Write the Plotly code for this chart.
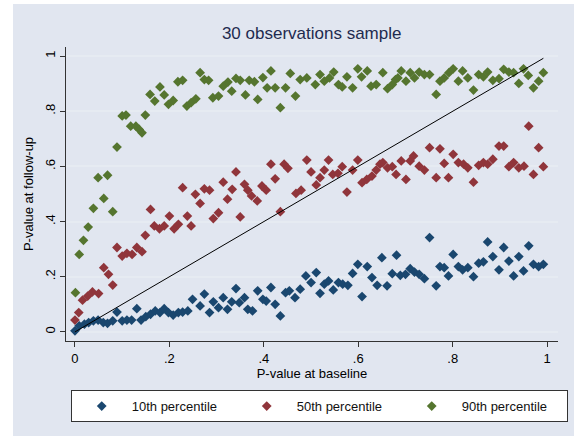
import plotly.graph_objects as go

# ---------------- data ----------------
blue_x = [0.000, 0.009, 0.020, 0.029, 0.039, 0.049, 0.060, 0.069, 0.080, 0.089,
          0.100, 0.110, 0.120, 0.131, 0.140, 0.150, 0.160, 0.170, 0.180, 0.189,
          0.198, 0.208, 0.219, 0.228, 0.239, 0.249, 0.265, 0.274, 0.285, 0.293,
          0.304, 0.314, 0.323, 0.332, 0.341, 0.348, 0.359, 0.366, 0.376, 0.387,
          0.398, 0.405, 0.415, 0.424, 0.435, 0.446, 0.454, 0.466, 0.477, 0.489,
          0.500, 0.511, 0.519, 0.528, 0.537, 0.547, 0.558, 0.567, 0.578, 0.588,
          0.599, 0.608, 0.619, 0.629, 0.640, 0.650, 0.661, 0.672, 0.681, 0.689,
          0.700, 0.710, 0.719, 0.729, 0.740, 0.751, 0.765, 0.773, 0.782, 0.791,
          0.801, 0.812, 0.821, 0.832, 0.844, 0.855, 0.865, 0.874, 0.885, 0.898,
          0.908, 0.919, 0.929, 0.940, 0.950, 0.961, 0.971, 0.982, 0.992]
blue_y = [0.004, 0.022, 0.028, 0.034, 0.040, 0.043, 0.034, 0.031, 0.040, 0.072,
          0.040, 0.043, 0.043, 0.084, 0.043, 0.055, 0.064, 0.076, 0.070, 0.084,
          0.070, 0.061, 0.070, 0.072, 0.076, 0.118, 0.094, 0.137, 0.070, 0.109,
          0.088, 0.124, 0.082, 0.109, 0.157, 0.106, 0.124, 0.082, 0.076, 0.149,
          0.118, 0.112, 0.161, 0.100, 0.058, 0.142, 0.149, 0.124, 0.155, 0.203,
          0.179, 0.215, 0.140, 0.173, 0.185, 0.152, 0.179, 0.173, 0.169, 0.212,
          0.245, 0.128, 0.237, 0.197, 0.169, 0.269, 0.167, 0.211, 0.278, 0.205,
          0.209, 0.229, 0.217, 0.209, 0.193, 0.342, 0.167, 0.237, 0.233, 0.203,
          0.281, 0.237, 0.225, 0.233, 0.200, 0.249, 0.254, 0.326, 0.273, 0.225,
          0.306, 0.257, 0.203, 0.273, 0.221, 0.312, 0.245, 0.237, 0.245]

red_x = [0.000, 0.008, 0.016, 0.027, 0.037, 0.050, 0.061, 0.071, 0.080, 0.089,
         0.100, 0.110, 0.121, 0.131, 0.142, 0.149, 0.160, 0.168, 0.179, 0.189,
         0.200, 0.210, 0.219, 0.228, 0.238, 0.246, 0.255, 0.265, 0.274, 0.285,
         0.293, 0.304, 0.314, 0.323, 0.333, 0.341, 0.350, 0.359, 0.366, 0.374,
         0.386, 0.396, 0.405, 0.415, 0.424, 0.435, 0.443, 0.451, 0.468, 0.479,
         0.491, 0.500, 0.511, 0.519, 0.528, 0.537, 0.546, 0.557, 0.566, 0.576,
         0.588, 0.599, 0.608, 0.618, 0.629, 0.638, 0.646, 0.652, 0.662, 0.672,
         0.680, 0.691, 0.701, 0.710, 0.717, 0.729, 0.740, 0.751, 0.765, 0.773,
         0.782, 0.791, 0.801, 0.812, 0.823, 0.832, 0.844, 0.855, 0.865, 0.874,
         0.885, 0.898, 0.908, 0.919, 0.929, 0.940, 0.951, 0.961, 0.971, 0.982,
         0.992]
red_y = [0.043, 0.070, 0.115, 0.130, 0.145, 0.139, 0.233, 0.209, 0.170, 0.306,
         0.275, 0.285, 0.281, 0.306, 0.291, 0.350, 0.444, 0.384, 0.374, 0.384,
         0.420, 0.374, 0.390, 0.523, 0.420, 0.384, 0.499, 0.466, 0.519, 0.514,
         0.411, 0.432, 0.543, 0.481, 0.517, 0.580, 0.417, 0.535, 0.514, 0.493,
         0.475, 0.529, 0.514, 0.608, 0.555, 0.436, 0.608, 0.593, 0.502, 0.514,
         0.623, 0.580, 0.533, 0.559, 0.587, 0.623, 0.571, 0.575, 0.599, 0.507,
         0.587, 0.623, 0.541, 0.553, 0.565, 0.587, 0.608, 0.614, 0.595, 0.599,
         0.571, 0.620, 0.553, 0.620, 0.638, 0.601, 0.587, 0.668, 0.559, 0.664,
         0.611, 0.559, 0.644, 0.614, 0.608, 0.595, 0.543, 0.604, 0.614, 0.608,
         0.626, 0.674, 0.674, 0.599, 0.614, 0.595, 0.601, 0.746, 0.571, 0.668,
         0.599]

green_x = [0.001, 0.009, 0.018, 0.028, 0.039, 0.049, 0.061, 0.069, 0.080, 0.089,
           0.100, 0.108, 0.118, 0.129, 0.136, 0.142, 0.149, 0.159, 0.169, 0.180,
           0.189, 0.198, 0.208, 0.218, 0.228, 0.237, 0.246, 0.256, 0.265, 0.274,
           0.283, 0.292, 0.304, 0.314, 0.324, 0.332, 0.341, 0.350, 0.361, 0.369,
           0.380, 0.387, 0.398, 0.407, 0.415, 0.424, 0.435, 0.446, 0.456, 0.467,
           0.477, 0.491, 0.509, 0.519, 0.528, 0.539, 0.548, 0.558, 0.566, 0.576,
           0.588, 0.599, 0.607, 0.619, 0.627, 0.638, 0.652, 0.662, 0.672, 0.679,
           0.684, 0.691, 0.701, 0.710, 0.719, 0.729, 0.740, 0.751, 0.765, 0.773,
           0.782, 0.792, 0.801, 0.812, 0.821, 0.832, 0.844, 0.855, 0.865, 0.874,
           0.885, 0.898, 0.908, 0.919, 0.929, 0.940, 0.950, 0.960, 0.971, 0.982,
           0.992]
green_y = [0.142, 0.281, 0.332, 0.380, 0.448, 0.559, 0.484, 0.568, 0.436, 0.670,
           0.783, 0.786, 0.746, 0.746, 0.734, 0.722, 0.786, 0.861, 0.837, 0.888,
           0.859, 0.825, 0.839, 0.907, 0.912, 0.819, 0.831, 0.845, 0.940, 0.915,
           0.912, 0.849, 0.855, 0.891, 0.906, 0.873, 0.919, 0.912, 0.859, 0.912,
           0.907, 0.843, 0.922, 0.885, 0.946, 0.885, 0.813, 0.885, 0.937, 0.855,
           0.915, 0.921, 0.897, 0.933, 0.909, 0.921, 0.942, 0.897, 0.888, 0.925,
           0.885, 0.954, 0.925, 0.946, 0.891, 0.897, 0.940, 0.882, 0.897, 0.915,
           0.921, 0.946, 0.909, 0.940, 0.921, 0.942, 0.933, 0.933, 0.861, 0.909,
           0.921, 0.940, 0.954, 0.909, 0.946, 0.921, 0.877, 0.933, 0.925, 0.942,
           0.912, 0.918, 0.952, 0.942, 0.940, 0.901, 0.954, 0.930, 0.885, 0.909,
           0.940]

series_names = ["10th percentile", "50th percentile", "90th percentile"]
tick_vals = [0, 0.2, 0.4, 0.6, 0.8, 1]
tick_text = ["0", ".2", ".4", ".6", ".8", "1"]

# 45-degree reference line over the baseline p-values
line_x = sorted(blue_x)
line_y = list(line_x)

# ---------------- figure ----------------
FONT = "Liberation Sans, Arial, sans-serif"
colors = ["#1A476F", "#90353B", "#55752F"]
W, H = 574, 436
ML, MR, MT, MB = 66, 16, 47, 95
PW, PH = W - ML - MR, H - MT - MB

fig = go.Figure()
for name, xs, ys, c in zip(series_names,
                           [blue_x, red_x, green_x],
                           [blue_y, red_y, green_y], colors):
    fig.add_trace(go.Scatter(x=xs, y=ys, mode="markers", name=name,
                             marker=dict(symbol="diamond", size=7.5, color=c,
                                         line=dict(width=0))))
fig.add_trace(go.Scatter(x=line_x, y=line_y, mode="lines", showlegend=False,
                         line=dict(color="black", width=1)))

# graph-region background (leaves a thin white strip at left and top)
fig.add_shape(type="rect", xref="paper", yref="paper", layer="below",
              x0=(13 - ML) / PW, x1=(W + 2 - ML) / PW,
              y0=(H - MB - (H + 2)) / PH, y1=(H - MB - 4) / PH,
              fillcolor="#E1E6F0", line=dict(width=0))

fig.update_layout(
    width=W, height=H,
    margin=dict(l=ML, r=MR, t=MT, b=MB, autoexpand=False),
    paper_bgcolor="white",
    plot_bgcolor="white",
    font=dict(family=FONT, size=12, color="#000000"),
    title=dict(text="30 observations sample", x=0.543, xanchor="center",
               y=0.925, yanchor="middle",
               font=dict(family=FONT, size=17, color="#1E2B4F")),
    showlegend=True,
    legend=dict(orientation="h", x=0.0096, xanchor="left", y=-0.167,
                yanchor="top", bgcolor="white", bordercolor="#333333",
                borderwidth=1, font=dict(family=FONT, size=13, color="#111111"),
                entrywidth=100, entrywidthmode="pixels", itemwidth=50,
                traceorder="normal"),
)
fig.update_xaxes(range=[-0.019, 1.023], tickvals=tick_vals, ticktext=tick_text,
                 showgrid=False, zeroline=False, showline=True,
                 linecolor="#333333", linewidth=1, ticks="outside", ticklen=5,
                 tickcolor="#333333", tickfont=dict(size=13),
                 title=dict(text="P-value at baseline", font=dict(size=13),
                            standoff=2))
fig.update_yaxes(range=[-0.033, 1.033], tickvals=tick_vals, ticktext=tick_text,
                 showgrid=True, gridcolor="#E6EBF2", gridwidth=1.5,
                 zeroline=False, showline=True,
                 linecolor="#333333", linewidth=1, ticks="outside", ticklen=5,
                 tickcolor="#333333", tickangle=-90, tickfont=dict(size=13),
                 title=dict(text="P-value at follow-up", font=dict(size=13),
                            standoff=6))

fig.write_html("out.html")
